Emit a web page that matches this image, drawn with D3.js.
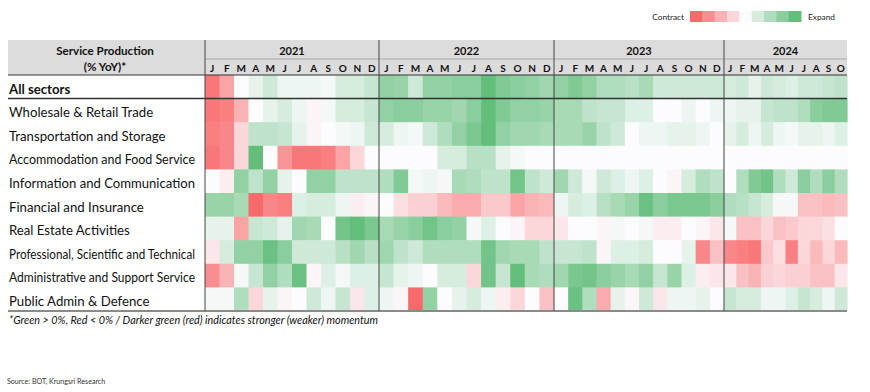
<!DOCTYPE html>
<html>
<head>
<meta charset="utf-8">
<script src="https://cdn.jsdelivr.net/npm/d3@7"></script>
<style>
  html, body { margin: 0; padding: 0; background: #ffffff; }
  svg { display: block; font-family: "Lato", "Open Sans", sans-serif; }
</style>
</head>
<body>
<svg id="chart" width="870" height="392"></svg>
<script>
// ---------------- DATA ----------------
const categories = [
  "All sectors",
  "Wholesale & Retail Trade",
  "Transportation and Storage",
  "Accommodation and Food Service",
  "Information and Communication",
  "Financial and Insurance",
  "Real Estate Activities",
  "Professional, Scientific and Technical",
  "Administrative and Support Service",
  "Public Admin & Defence"
];
const years = ["2021", "2022", "2023", "2024"];
const monthsFull = ["J","F","M","A","M","J","J","A","S","O","N","D"];
const months2024 = ["J","F","M","A","M","J","J","A","S","O"];
const legendSteps = [-10, -7.5, -5, -2.5, 0, 2.5, 5, 7.5, 10];

// momentum intensity (-10 strongest contraction ... +10 strongest expansion)
const allSectors = [
  -9, -6, 0, 1.5, 3, 1, 1, 1, 0.5, 2.5, 2.5, 3.5,
  7, 6.5, 3, 7, 7, 7.5, 7.5, 10, 8, 7.5, 7, 6,
  7, 8, 7, 5, 5, 4.5, 5.5, 3, 3, 3, 3, 3,
  2.5, 3, 1.5, 3, 2.5, 2, 3, 3, 3.5, 4
];
const wholesale = [
  -9, -8.5, -5, 0, 1.5, 2.5, 1, -0.5, 0.5, 2.5, 2.5, 3.5,
  7, 7.5, 7.5, 6.5, 6.5, 6, 7.5, 10, 8, 7, 7, 6.5,
  5.5, 5.5, 4, 3.5, 3.5, 2, 2, 0, 0, 1, 0, 1,
  1, 1.5, 1.5, 3.5, 4, 4, 5, 7.5, 8, 8
];
const transport = [
  -8.5, -8, -2.5, 4, 4, 3.5, 1.5, -0.5, 0, 0.5, 1, 3,
  2.5, 1, 0.5, 3, 5, 7, 8.5, 10, 7, 6, 6, 5.5,
  5.5, 5.5, 6.5, 4, 3, 0, 1, 1, 1.5, 1.5, 1, 0,
  1.5, 2.5, 1, 2.5, 1, 0.5, 1.5, 1.5, 1, 2
];
const accommodation = [
  -9, -8, -2.5, 10, 0, -7, -9, -9, -8.5, -6, -2.5, 0,
  0, 0, 0, 0, 2.5, 2.5, 4.5, 4.5, 1.5, 0.5, 0, 0,
  0, 0, 0, 0, 0, 0, 0, 0, 0, 0, 0, 0,
  0, 0, 0, 0, 0, 0, 0, 0, 0, 0
];
const information = [
  0, -1, 7, 4, 7, 1.5, 0, 7, 7, 4, 4, 4,
  5, 8, 0.5, 1, 0.5, 5.5, 5, 4, 4, 9, 4, 3,
  6, 3, 0.5, 3, 2, 1, 2, 0, -0.5, 2.5, 5, 4,
  0, 5, 8, 9, 5, 3, 7.5, 5, 7.5, 5
];
const financial = [
  6.5, 6.5, 5.5, -10, -8, -8.5, 2, 2.5, 2.5, 1, -1, -0.5,
  0, -2, -3, -3, -4.5, -5.5, -5.5, -3.5, -3.5, -6, -5, -4.5,
  1, 2.5, 2, 4.5, 5.5, 6.5, 9.5, 7.5, 8.5, 8.5, 8.5, 7.5,
  5, 4.5, 3.5, 2.5, 0.5, 0.5, -4, -4, -4.5, -4
];
const realEstate = [
  1.5, 1.5, -6, 3.5, 3, 1.5, 6, 5.5, 0, 9, 10, 8.5,
  5.5, 6.5, 7.5, 9, 7.5, 7, 0.5, 2, 0, -0.5, -2.5, -2.5,
  -1.5, 0, 0, -0.5, 0.5, 0, 0.5, -1, -1, 0, -0.5, -1.5,
  0.5, -4, -4, -2.5, -4, -3.5, -2.5, -2.5, -2, 0
];
const professional = [
  -1.5, 2.5, 7, 7, 9.5, 7.5, 3, 3, 3, 4.5, 6, 4.5,
  6, 4, 3, 5, 5, 5, 5, 9, 6, 5.5, 5.5, 4,
  3.5, 3.5, 4, -0.5, 2, 2, 2.5, 0, 0, 1.5, -8, -4,
  -8, -8.5, -9, -3.5, -2, -8.5, -2.5, -4.5, -2.5, -4.5
];
const administrative = [
  -7.5, -5, 0.5, 3.5, 7, 5, 9.5, -0.5, 2, 0.5, 2, 2,
  3.5, 1.5, 1, 0, 2.5, 2.5, -2.5, 9, 3.5, 10, 5.5, 5,
  6, 8.5, 9, 7.5, 6.5, 5.5, 7, 3.5, 6.5, 2, -1, -1.5,
  -1.5, -4, -5, -3, -2.5, -3, -3, -4, -4, -1.5
];
const publicAdmin = [
  0.5, 0.5, 5, -2.5, 1.5, -0.5, 0, 3, 1, 3.5, -1.5, 2,
  1, -0.5, -10, 7, 0, 1.5, 2.5, 1, -1, -2.5, 0, -4,
  0, 9.5, 5, -5.5, 1.5, -0.5, 3, -1.5, 1, 1, 1.5, 0,
  3.5, 2.5, 2.5, 1, 1, 2, 3.5, 2.5, 1, 3
];
const series = [allSectors, wholesale, transport, accommodation, information,
                financial, realEstate, professional, administrative, publicAdmin];

// ---------------- LAYOUT ----------------
const svg = d3.select("#chart");
const left = 8, right = 847;
const gridLeft = 205;
const headTop = 40, yearBottom = 59, headBottom = 75, gridBottom = 311;
const yearEdges = [205, 379, 554, 724, 847];
const monthsPerYear = [monthsFull, monthsFull, monthsFull, months2024];

const color = d3.scaleLinear().domain([-10, 0, 10])
  .range(["#F8696B", "#FCFCFF", "#63BE7B"]).interpolate(d3.interpolateRgb);

const yRow = d3.scaleBand().domain(categories).range([headBottom, gridBottom]);

// per-year x band scales
const xYear = years.map((y, i) =>
  d3.scaleBand().domain(d3.range(monthsPerYear[i].length))
    .range([yearEdges[i], yearEdges[i + 1]]));

// build the cell table
const cells = [];
categories.forEach((cat, r) => {
  let k = 0;
  years.forEach((yr, yi) => {
    monthsPerYear[yi].forEach((m, mi) => {
      cells.push({ cat, yi, mi, v: series[r][k] });
      k++;
    });
  });
});

// header background
svg.append("rect").attr("x", left).attr("y", headTop)
  .attr("width", right - left).attr("height", headBottom - headTop)
  .attr("fill", "#dcdcdc");

// cells
svg.append("g").selectAll("rect").data(cells).join("rect")
  .attr("x", d => xYear[d.yi](d.mi))
  .attr("y", d => yRow(d.cat))
  .attr("width", d => xYear[d.yi].bandwidth() + 0.6)
  .attr("height", yRow.bandwidth() + 0.6)
  .attr("fill", d => color(d.v));

// header texts
svg.append("text").attr("x", 105).attr("y", 55).attr("text-anchor", "middle")
  .attr("font-size", 11.6).attr("font-weight", "bold").attr("fill", "#111")
  .text("Service Production");
svg.append("text").attr("x", 105).attr("y", 71).attr("text-anchor", "middle")
  .attr("font-size", 11.6).attr("font-weight", "bold").attr("fill", "#111")
  .text("(% YoY)*");

years.forEach((yr, i) => {
  svg.append("text")
    .attr("x", (yearEdges[i] + yearEdges[i + 1]) / 2).attr("y", 55)
    .attr("text-anchor", "middle").attr("font-size", 11).attr("font-weight", "bold")
    .attr("fill", "#111").text(yr);
  svg.append("g").selectAll("text").data(monthsPerYear[i]).join("text")
    .attr("x", (d, mi) => xYear[i](mi) + xYear[i].bandwidth() / 2)
    .attr("y", 72).attr("text-anchor", "middle")
    .attr("font-size", 10).attr("font-weight", "bold").attr("fill", "#111")
    .text(d => d);
});

// row labels (fit to the label column)
const maxLabel = 186;
svg.append("g").selectAll("text").data(categories).join("text")
  .attr("x", 9)
  .attr("y", d => yRow(d) + yRow.bandwidth() - 5)
  .attr("font-size", 13.2)
  .attr("font-weight", (d, i) => i === 0 ? "bold" : "normal")
  .attr("fill", "#111")
  .text(d => d)
  .each(function () {
    if (this.getComputedTextLength() > maxLabel) {
      d3.select(this).attr("textLength", maxLabel).attr("lengthAdjust", "spacingAndGlyphs");
    }
  });

// lines
const ln = (x1, y1, x2, y2, c, w) => svg.append("line")
  .attr("x1", x1).attr("y1", y1).attr("x2", x2).attr("y2", y2)
  .attr("stroke", c).attr("stroke-width", w);
ln(gridLeft, yearBottom, right, yearBottom, "#a8a8a8", 1);
ln(left, headBottom, right, headBottom, "#333", 1.2);
ln(left, yRow(categories[1]), right, yRow(categories[1]), "#333", 1.5);
ln(left, gridBottom, right, gridBottom, "#8a8a8a", 2);
yearEdges.slice(0, 4).forEach(x => ln(x, headTop, x, gridBottom, "#444", 1));

// footnote
svg.append("text").attr("x", 9).attr("y", 324)
  .attr("font-size", 10.8).attr("font-style", "italic").attr("fill", "#111")
  .text("*Green > 0%, Red < 0% / Darker green (red) indicates stronger (weaker) momentum");

// source
svg.append("text").attr("x", 7).attr("y", 384)
  .attr("font-size", 7.1).attr("fill", "#333")
  .text("Source: BOT, Krungsri Research");

// legend
const lx = d3.scaleBand().domain(d3.range(legendSteps.length)).range([690, 801]);
svg.append("g").selectAll("rect").data(legendSteps).join("rect")
  .attr("x", (d, i) => lx(i)).attr("y", 11)
  .attr("width", lx.bandwidth() + 0.5).attr("height", 11)
  .attr("fill", d => color(d));
svg.append("text").attr("x", 684).attr("y", 20).attr("text-anchor", "end")
  .attr("font-size", 8.3).attr("fill", "#222").text("Contract");
svg.append("text").attr("x", 808).attr("y", 20)
  .attr("font-size", 8.3).attr("fill", "#222").text("Expand");
</script>
</body>
</html>
